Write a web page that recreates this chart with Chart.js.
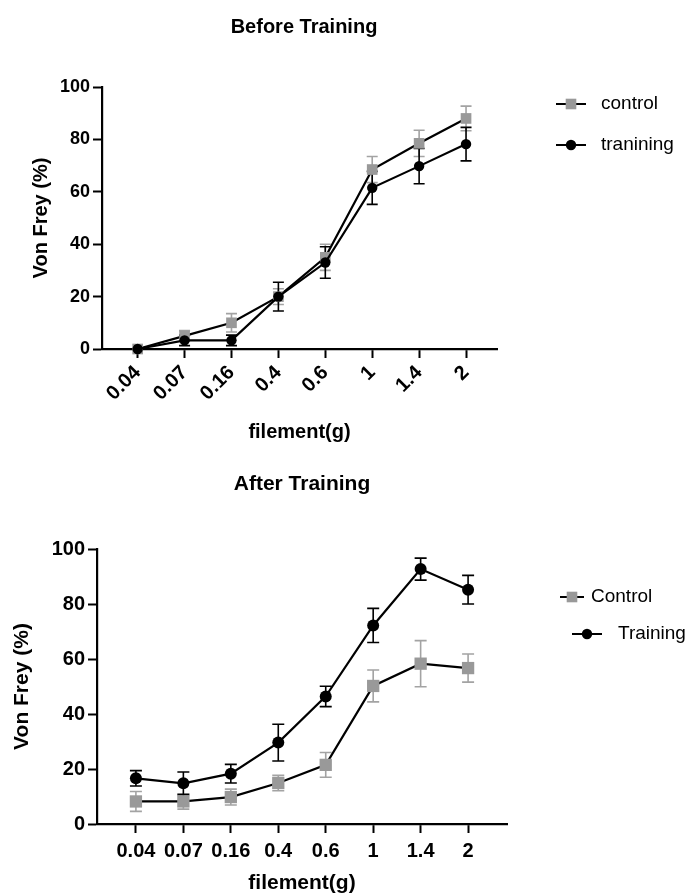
<!DOCTYPE html>
<html>
<head>
<meta charset="utf-8">
<script src="https://cdn.jsdelivr.net/npm/chart.js@4.4.1/dist/chart.umd.min.js"></script>
<style>
  html, body { margin: 0; padding: 0; background: #fff; }
  #wrap { position: relative; width: 695px; height: 896px; overflow: hidden; }
  .box { position: absolute; left: 0; width: 695px; }
</style>
</head>
<body>
<div id="wrap">
  <div class="box" style="top:0;height:450px"><canvas id="chartBefore"></canvas></div>
  <div class="box" style="top:450px;height:446px"><canvas id="chartAfter"></canvas></div>
</div>
<script>
const filaments = ['0.04', '0.07', '0.16', '0.4', '0.6', '1', '1.4', '2'];
const yTicks = [0, 20, 40, 60, 80, 100];

// Before training (mean, SEM)
const beforeControl = [0, 5, 10, 20, 35, 68.5, 78.5, 88];
const beforeControlErr = [0, 2, 3.5, 3, 5, 5, 5, 4.7];
const beforeTraining = [0, 3.3, 3.3, 20, 33, 61.5, 69.8, 78.2];
const beforeTrainingErr = [0, 2, 2, 5.5, 6, 6.3, 6.7, 6.4];

// After training (mean, SEM)
const afterControl = [8.2, 8.2, 9.8, 14.9, 21.5, 50.2, 58.3, 56.7];
const afterControlErr = [3.6, 2.8, 2.9, 2.8, 4.5, 5.8, 8.4, 5.1];
const afterTraining = [16.6, 14.8, 18.3, 29.6, 46.4, 72.2, 92.7, 85.2];
const afterTrainingErr = [2.8, 4.1, 3.4, 6.7, 3.7, 6.2, 4.0, 5.2];

Chart.defaults.font.family = "'Liberation Sans', Arial, sans-serif";
Chart.defaults.color = '#000';

const GRAY = '#999999';

// error bars are drawn under the markers
const errorBars = {
  id: 'errorBars',
  beforeDatasetsDraw(chart, args, opts) {
    const ctx = chart.ctx;
    const ys = chart.scales.y;
    chart.data.datasets.forEach((ds, i) => {
      const meta = chart.getDatasetMeta(i);
      ctx.save();
      ctx.strokeStyle = ds.errColor;
      ctx.lineWidth = 1.6;
      meta.data.forEach((pt, j) => {
        const e = ds.errors[j];
        if (!e) return;
        const v = ds.data[j].y;
        const top = ys.getPixelForValue(v + e);
        const bot = ys.getPixelForValue(v - e);
        const w = opts.cap;
        ctx.beginPath();
        ctx.moveTo(pt.x, top); ctx.lineTo(pt.x, bot);
        ctx.moveTo(pt.x - w, top); ctx.lineTo(pt.x + w, top);
        ctx.moveTo(pt.x - w, bot); ctx.lineTo(pt.x + w, bot);
        ctx.stroke();
      });
      ctx.restore();
    });
  }
};

// title and line+marker legend
const decor = {
  id: 'decor',
  afterDraw(chart, args, opts) {
    const ctx = chart.ctx;
    ctx.save();
    ctx.fillStyle = '#000';
    ctx.font = opts.titleFont;
    ctx.textAlign = 'center';
    ctx.textBaseline = 'middle';
    ctx.fillText(opts.title, opts.titleX, opts.titleY);

    ctx.font = opts.legendFont;
    ctx.textAlign = 'left';
    chart.data.datasets.forEach((ds, i) => {
      const row = opts.rows[i];
      ctx.strokeStyle = '#000';
      ctx.lineWidth = 2;
      ctx.beginPath();
      ctx.moveTo(row.x1, row.y);
      ctx.lineTo(row.x2, row.y);
      ctx.stroke();
      ctx.fillStyle = ds.pointBackgroundColor;
      Chart.helpers.drawPoint(ctx, {
        pointStyle: ds.pointStyle, radius: ds.legendRadius, borderWidth: 0, rotation: 0
      }, (row.x1 + row.x2) / 2, row.y);
      ctx.fillStyle = '#000';
      ctx.fillText(ds.label, row.tx, row.y);
    });
    ctx.restore();
  }
};

function makeSeries(label, values, errors, isControl, r) {
  return {
    label: label,
    data: values.map((v, i) => ({ x: i, y: v })),
    errors: errors,
    errColor: isControl ? '#a3a3a3' : '#000',
    borderColor: '#000',
    borderWidth: 2.2,
    tension: 0,
    pointStyle: isControl ? 'rect' : 'circle',
    pointRadius: isControl ? r * 1.45 : r,
    legendRadius: isControl ? 7.5 : 5.2,
    pointBackgroundColor: isControl ? GRAY : '#000',
    pointBorderWidth: 0,
    clip: false,
    order: isControl ? 1 : 0
  };
}

function makeChart(el, cfg) {
  return new Chart(el, {
    type: 'line',
    data: {
      datasets: [
        makeSeries(cfg.names[0], cfg.control, cfg.controlErr, true, cfg.r),
        makeSeries(cfg.names[1], cfg.training, cfg.trainingErr, false, cfg.r)
      ]
    },
    options: {
      maintainAspectRatio: false,
      responsive: true,
      animation: false,
      layout: { padding: { top: cfg.top, right: cfg.right, left: 0, bottom: 0 } },
      plugins: {
        legend: { display: false },
        tooltip: { enabled: false },
        errorBars: { cap: cfg.cap },
        decor: cfg.decor
      },
      scales: {
        x: {
          type: 'linear',
          min: cfg.xMin,
          max: cfg.xMax,
          afterBuildTicks: s => { s.ticks = filaments.map((f, i) => ({ value: i })); },
          afterFit: s => { s.height = cfg.xHeight; },
          ticks: {
            autoSkip: false,
            callback: v => filaments[v],
            minRotation: cfg.rot,
            maxRotation: cfg.rot,
            padding: cfg.xPad,
            font: { size: cfg.xTickSize, weight: 'bold' }
          },
          grid: { drawOnChartArea: false, tickLength: 9, tickWidth: 2, tickColor: '#000' },
          border: { color: '#000', width: 2.2 },
          title: {
            display: true, text: 'filement(g)',
            font: { size: cfg.titleSize, weight: 'bold' },
            padding: { top: 0, bottom: cfg.xTitlePad }
          }
        },
        y: {
          min: 0,
          max: 100,
          afterBuildTicks: s => { s.ticks = yTicks.map(v => ({ value: v })); },
          afterFit: s => { s.width = cfg.yWidth; },
          ticks: { padding: 3, font: { size: cfg.tickSize, weight: 'bold' } },
          grid: { drawOnChartArea: false, tickLength: 9, tickWidth: 2, tickColor: '#000' },
          border: { color: '#000', width: 2.2 },
          title: {
            display: true, text: 'Von Frey (%)',
            font: { size: cfg.titleSize, weight: 'bold' },
            padding: { top: cfg.yTitlePad, bottom: 0 }
          }
        }
      }
    },
    plugins: [errorBars, decor]
  });
}

makeChart(document.getElementById('chartBefore'), {
  names: ['control', 'tranining'],
  control: beforeControl, controlErr: beforeControlErr,
  training: beforeTraining, trainingErr: beforeTrainingErr,
  r: 5.2, cap: 5.5,
  top: 87, right: 198, yWidth: 102, xHeight: 101,
  xMin: -0.76, xMax: 7.66, rot: 45, xPad: 3,
  tickSize: 18, xTickSize: 20, titleSize: 20, xTitlePad: 6, yTitlePad: 29,
  decor: {
    title: 'Before Training', titleX: 304, titleY: 27,
    titleFont: "bold 20px 'Liberation Sans', Arial, sans-serif",
    legendFont: "19px 'Liberation Sans', Arial, sans-serif",
    rows: [{ x1: 556, x2: 586, tx: 601, y: 104 }, { x1: 556, x2: 586, tx: 601, y: 145 }]
  }
});

makeChart(document.getElementById('chartAfter'), {
  names: ['Control', 'Training'],
  control: afterControl, controlErr: afterControlErr,
  training: afterTraining, trainingErr: afterTrainingErr,
  r: 6, cap: 6,
  top: 99, right: 188, yWidth: 97, xHeight: 72,
  xMin: -0.82, xMax: 7.82, rot: 0, xPad: 6,
  tickSize: 20, xTickSize: 20, titleSize: 21, xTitlePad: 0, yTitlePad: 10,
  decor: {
    title: 'After Training', titleX: 302, titleY: 34,
    titleFont: "bold 21px 'Liberation Sans', Arial, sans-serif",
    legendFont: "19px 'Liberation Sans', Arial, sans-serif",
    rows: [{ x1: 560, x2: 584, tx: 591, y: 147 }, { x1: 572, x2: 602, tx: 618, y: 184 }]
  }
});
</script>
</body>
</html>
